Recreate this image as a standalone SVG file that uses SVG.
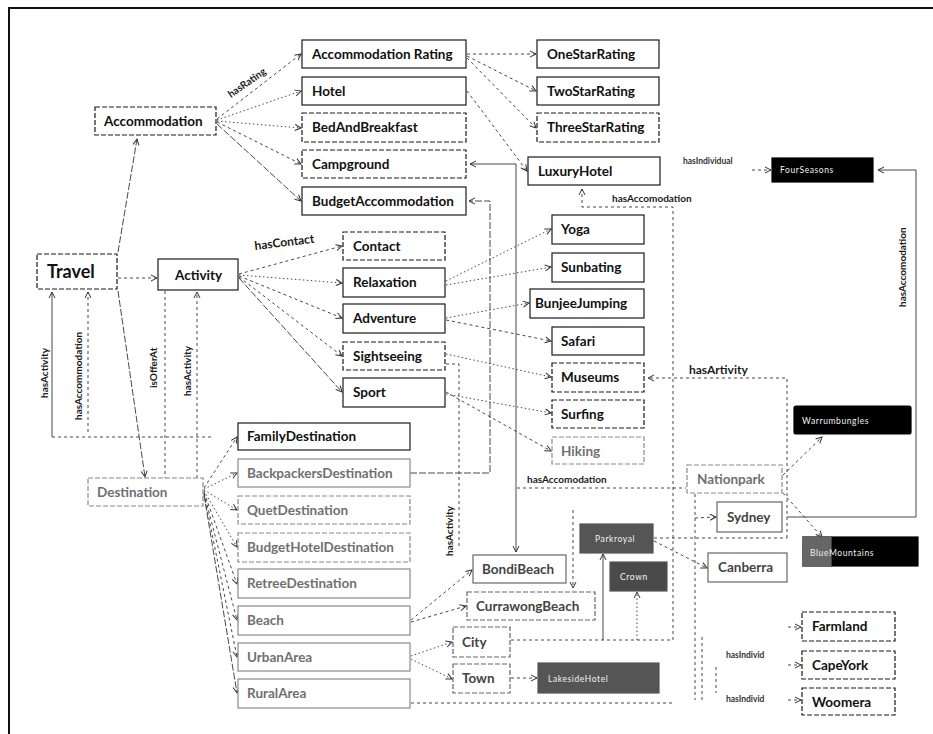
<svg xmlns="http://www.w3.org/2000/svg" width="933" height="734" viewBox="0 0 933 734">
<defs>
  <marker id="arr" viewBox="0 0 8 8" refX="7" refY="4" markerWidth="8" markerHeight="8" orient="auto-start-reverse" markerUnits="userSpaceOnUse">
    <path d="M1,1 L7,4 L1,7" fill="none" stroke="#333" stroke-width="1"/>
  </marker>
  <style>
    .box rect { fill:#fff; stroke:#1a1a1a; stroke-width:1.2; }
    .box.dash rect { stroke-dasharray:5 2; }
    .box.faint rect { stroke:#8a8a8a; }
    .box.faint text { fill:#707070; }
    .box.mid text { fill:#444; }
    .box.mid rect { stroke:#666; }
    .box.dark rect { fill:#000; stroke:#000; }
    .box.grey rect { fill:#555; stroke:#555; }
    text { font-family: Lato, "Liberation Sans", "DejaVu Sans", sans-serif; }
    .t { font-weight:700; font-size:13.5px; fill:#111; }
    .w { font-size:8.5px; fill:#f2f2f2; letter-spacing:0.6px; }
    .lbl { font-size:10px; font-weight:700; fill:#1a1a1a; }
    .lbl.sm { font-size:8.5px; fill:#333; }
    .lbl.big { font-size:12px; }
    #connectors path { fill:none; stroke:#333; stroke-width:0.9; }
    #connectors .d { stroke-dasharray:3 3; }
    #connectors .o { stroke-dasharray:1.5 2.5; }
    #connectors .l { stroke-dasharray:7 2; }
  </style>
</defs>
<rect width="933" height="734" fill="#fff"/>
<!-- frame -->
<path d="M9,734 L9,8 L933,8" fill="none" stroke="#111" stroke-width="2"/>

<g id="connectors">
  <!-- Travel -->
  <path class="l" d="M118,252 L137,139" marker-end="url(#arr)"/>
  <path class="l" d="M118,291 L145,477" marker-end="url(#arr)"/>
  <path class="d" d="M118,278 L157,278" marker-end="url(#arr)"/>
  <path d="M52,437 L52,292" marker-end="url(#arr)"/>
  <path class="d" d="M88,432 L88,292" marker-end="url(#arr)"/>
  <path class="d" d="M52,437 L213,437"/>
  <path class="d" d="M165,291 L165,478"/>
  <path class="d" d="M197,478 L197,292" marker-end="url(#arr)"/>
  <!-- Accommodation -->
  <path class="d" d="M217,119 L301,54" marker-end="url(#arr)"/>
  <path class="o" d="M217,120 L301,91" marker-end="url(#arr)"/>
  <path class="o" d="M217,121 L301,128" marker-end="url(#arr)"/>
  <path class="d" d="M217,122 L301,164" marker-end="url(#arr)"/>
  <path class="l" d="M217,124 L301,201" marker-end="url(#arr)"/>
  <!-- ratings -->
  <path class="d" d="M467,54 L536,54" marker-end="url(#arr)"/>
  <path class="d" d="M467,56 L536,91" marker-end="url(#arr)"/>
  <path class="d" d="M467,58 L536,128" marker-end="url(#arr)"/>
  <path class="d" d="M467,91 L527,171" marker-end="url(#arr)"/>
  <!-- long verticals -->
  <path d="M410,473 L490,473 L490,201 L469,201" class="l" marker-end="url(#arr)"/>
  <path d="M470,164 L516,164 L516,552" marker-start="url(#arr)" marker-end="url(#arr)"/>
  <path class="d" d="M673,640 L673,207 L582,207 L582,189" marker-end="url(#arr)"/>
  <path class="d" d="M787,538 L787,378 L648,378" marker-end="url(#arr)"/>
  <path d="M787,517 L916,517 L916,170 L878,170" marker-end="url(#arr)"/>
  <path class="d" d="M752,170 L771,170" marker-end="url(#arr)"/>
  <!-- Activity -->
  <path class="d" d="M239,274 L342,246" marker-end="url(#arr)"/>
  <path class="o" d="M239,275 L342,283" marker-end="url(#arr)"/>
  <path class="d" d="M239,276 L342,318" marker-end="url(#arr)"/>
  <path class="d" d="M239,277 L342,356" marker-end="url(#arr)"/>
  <path class="l" d="M239,278 L342,392" marker-end="url(#arr)"/>
  <!-- activity kinds -->
  <path class="o" d="M446,281 L551,229" marker-end="url(#arr)"/>
  <path class="o" d="M446,285 L551,267" marker-end="url(#arr)"/>
  <path class="o" d="M446,318 L529,303" marker-end="url(#arr)"/>
  <path class="d" d="M446,320 L551,341" marker-end="url(#arr)"/>
  <path class="o" d="M446,354 L551,377" marker-end="url(#arr)"/>
  <path class="d" d="M446,392 L551,451" marker-end="url(#arr)"/>
  <path class="o" d="M446,394 L551,413" marker-end="url(#arr)"/>
  <path class="d" d="M446,364 L459,364 L459,548"/>
  <!-- Destination -->
  <path class="d" d="M204,488 L237,437" marker-end="url(#arr)"/>
  <path class="o" d="M204,489 L237,473" marker-end="url(#arr)"/>
  <path class="o" d="M204,490 L237,510" marker-end="url(#arr)"/>
  <path class="o" d="M204,491 L237,547" marker-end="url(#arr)"/>
  <path class="d" d="M204,492 L237,584" marker-end="url(#arr)"/>
  <path class="d" d="M204,493 L237,620" marker-end="url(#arr)"/>
  <path class="d" d="M204,494 L237,657" marker-end="url(#arr)"/>
  <path class="l" d="M204,495 L237,693" marker-end="url(#arr)"/>
  <!-- places -->
  <path class="d" d="M411,620 L472,570" marker-end="url(#arr)"/>
  <path class="d" d="M411,622 L466,606" marker-end="url(#arr)"/>
  <path class="o" d="M411,656 L452,642" marker-end="url(#arr)"/>
  <path class="o" d="M411,659 L452,679" marker-end="url(#arr)"/>
  <path class="d" d="M511,678 L537,678" marker-end="url(#arr)"/>
  <path class="d" d="M511,640 L673,640"/>
  <path class="d" d="M411,703 L673,703"/>
  <path d="M603,640 L603,554" marker-end="url(#arr)"/>
  <path class="o" d="M637,640 L637,592" marker-end="url(#arr)"/>
  <path class="d" d="M573,510 L573,588" marker-end="url(#arr)"/>
  <path class="d" d="M654,538 L787,538"/>
  <path class="d" d="M654,541 L707,568" marker-end="url(#arr)"/>
  <path class="d" d="M517,488 L686,488"/>
  <path class="d" d="M695,494 L695,700"/>
  <path class="d" d="M695,518 L716,517" marker-end="url(#arr)"/>
  <path class="d" d="M783,475 L822,437" marker-end="url(#arr)"/>
  <path class="d" d="M783,493 L822,537" marker-end="url(#arr)"/>
  <path class="d" d="M702,637 L702,700"/>
  <path class="d" d="M716,667 L716,693"/>
  <path class="d" d="M788,627 L801,627" marker-end="url(#arr)"/>
  <path class="d" d="M788,665 L801,665" marker-end="url(#arr)"/>
  <path class="d" d="M788,700 L801,700" marker-end="url(#arr)"/>
</g>

<!-- connector labels -->
<g id="labels">
  <text class="lbl" transform="translate(231,98) rotate(-35)">hasRating</text>
  <text class="lbl big" transform="translate(255,250) rotate(-7)">hasContact</text>
  <text class="lbl sm" x="683" y="164">hasIndividual</text>
  <text class="lbl" x="612" y="202">hasAccomodation</text>
  <text class="lbl" transform="translate(906,307) rotate(-90)">hasAccomodation</text>
  <text class="lbl big" x="689" y="374">hasArtivity</text>
  <text class="lbl" x="527" y="483">hasAccomodation</text>
  <text class="lbl" transform="translate(453,556) rotate(-90)">hasActivity</text>
  <text class="lbl" transform="translate(48,398) rotate(-90)">hasActivity</text>
  <text class="lbl" transform="translate(82,420) rotate(-90)">hasAccommodation</text>
  <text class="lbl" transform="translate(157,388) rotate(-90)">isOfferAt</text>
  <text class="lbl" transform="translate(191,396) rotate(-90)">hasActivity</text>
  <text class="lbl sm" x="726" y="658">hasIndivid</text>
  <text class="lbl sm" x="726" y="702">hasIndivid</text>
</g>

<!-- top level -->
<g id="accommodation" class="box dash"><rect x="95" y="107" width="121" height="28"/><text class="t" x="104" y="126">Accommodation</text></g>
<g id="travel" class="box dash"><rect x="37" y="254" width="80" height="35"/><text class="t" x="47" y="278" style="font-size:18px">Travel</text></g>
<g id="activity" class="box"><rect x="158" y="259" width="80" height="31"/><text class="t" x="175" y="280">Activity</text></g>
<g id="destination" class="box dash faint"><rect x="88" y="478" width="115" height="28"/><text class="t" x="97" y="497">Destination</text></g>

<!-- accommodation kinds -->
<g id="accommodation-rating" class="box"><rect x="302" y="40" width="164" height="28"/><text class="t" x="312" y="59">Accommodation Rating</text></g>
<g id="hotel" class="box"><rect x="302" y="77" width="164" height="28"/><text class="t" x="312" y="96">Hotel</text></g>
<g id="bed-and-breakfast" class="box dash"><rect x="302" y="113" width="164" height="29"/><text class="t" x="312" y="132">BedAndBreakfast</text></g>
<g id="campground" class="box dash"><rect x="302" y="150" width="164" height="28"/><text class="t" x="312" y="169">Campground</text></g>
<g id="budget-accommodation" class="box"><rect x="302" y="187" width="164" height="28"/><text class="t" x="312" y="206">BudgetAccommodation</text></g>

<g id="one-star" class="box"><rect x="537" y="40" width="122" height="28"/><text class="t" x="547" y="59">OneStarRating</text></g>
<g id="two-star" class="box"><rect x="537" y="77" width="122" height="28"/><text class="t" x="547" y="96">TwoStarRating</text></g>
<g id="three-star" class="box dash"><rect x="537" y="113" width="122" height="29"/><text class="t" x="547" y="132">ThreeStarRating</text></g>
<g id="luxury-hotel" class="box"><rect x="528" y="157" width="132" height="28"/><text class="t" x="538" y="176">LuxuryHotel</text></g>
<g id="hotel-individual" class="box dark"><rect x="772" y="158" width="101" height="24"/><text class="w" x="780" y="173">FourSeasons</text></g>

<!-- activity kinds -->
<g id="contact" class="box dash"><rect x="343" y="232" width="102" height="28"/><text class="t" x="353" y="251">Contact</text></g>
<g id="relaxation" class="box"><rect x="343" y="268" width="102" height="29"/><text class="t" x="353" y="287">Relaxation</text></g>
<g id="adventure" class="box"><rect x="343" y="304" width="102" height="29"/><text class="t" x="353" y="323">Adventure</text></g>
<g id="sightseeing" class="box dash"><rect x="343" y="342" width="102" height="28"/><text class="t" x="353" y="361">Sightseeing</text></g>
<g id="sport" class="box"><rect x="343" y="378" width="102" height="29"/><text class="t" x="353" y="397">Sport</text></g>

<g id="yoga" class="box"><rect x="552" y="215" width="92" height="29"/><text class="t" x="561" y="234">Yoga</text></g>
<g id="sunbating" class="box"><rect x="552" y="253" width="92" height="29"/><text class="t" x="561" y="272">Sunbating</text></g>
<g id="bunjee-jumping" class="box"><rect x="530" y="289" width="114" height="29"/><text class="t" x="535" y="308">BunjeeJumping</text></g>
<g id="safari" class="box"><rect x="552" y="327" width="92" height="28"/><text class="t" x="561" y="346">Safari</text></g>
<g id="museums" class="box dash"><rect x="552" y="363" width="92" height="29"/><text class="t" x="561" y="382">Museums</text></g>
<g id="surfing" class="box dash"><rect x="552" y="400" width="92" height="28"/><text class="t" x="561" y="419">Surfing</text></g>
<g id="hiking" class="box dash faint"><rect x="552" y="437" width="92" height="27"/><text class="t" x="561" y="456">Hiking</text></g>

<!-- destination kinds -->
<g id="family-destination" class="box"><rect x="238" y="423" width="172" height="27"/><text class="t" x="247" y="441">FamilyDestination</text></g>
<g id="backpackers-destination" class="box faint"><rect x="238" y="459" width="172" height="28"/><text class="t" x="247" y="478">BackpackersDestination</text></g>
<g id="quet-destination" class="box faint dash"><rect x="238" y="496" width="172" height="28"/><text class="t" x="247" y="515">QuetDestination</text></g>
<g id="budget-hotel-destination" class="box faint dash"><rect x="238" y="533" width="172" height="29"/><text class="t" x="247" y="552">BudgetHotelDestination</text></g>
<g id="retree-destination" class="box faint"><rect x="238" y="569" width="172" height="29"/><text class="t" x="247" y="588">RetreeDestination</text></g>
<g id="beach" class="box faint"><rect x="238" y="606" width="172" height="29"/><text class="t" x="247" y="625">Beach</text></g>
<g id="urban-area" class="box faint"><rect x="238" y="643" width="172" height="28"/><text class="t" x="247" y="662">UrbanArea</text></g>
<g id="rural-area" class="box faint"><rect x="238" y="679" width="172" height="29"/><text class="t" x="247" y="698">RuralArea</text></g>

<!-- places -->
<g id="bondi-beach" class="box mid"><rect x="473" y="555" width="93" height="28"/><text class="t" x="482" y="574">BondiBeach</text></g>
<g id="currawong-beach" class="box mid dash"><rect x="467" y="592" width="128" height="28"/><text class="t" x="476" y="611">CurrawongBeach</text></g>
<g id="city" class="box mid dash"><rect x="453" y="627" width="57" height="30"/><text class="t" x="462" y="647">City</text></g>
<g id="town" class="box mid dash"><rect x="453" y="664" width="57" height="29"/><text class="t" x="462" y="683">Town</text></g>
<g id="beach-hotel" class="box grey"><rect x="580" y="524" width="73" height="29"/><text class="w" x="595" y="542">Parkroyal</text></g>
<g id="beach-hostel" class="box grey"><rect x="610" y="562" width="57" height="29" style="fill:#4a4a4a"/><text class="w" x="620" y="580">Crown</text></g>
<g id="town-hotel" class="box grey"><rect x="538" y="663" width="121" height="30"/><text class="w" x="548" y="682">LakesideHotel</text></g>
<g id="nationpark" class="box faint dash"><rect x="687" y="465" width="95" height="28"/><text class="t" x="697" y="484">Nationpark</text></g>
<g id="sydney" class="box mid"><rect x="717" y="502" width="65" height="30"/><text class="t" x="727" y="522">Sydney</text></g>
<g id="canberra" class="box mid"><rect x="708" y="553" width="79" height="29"/><text class="t" x="718" y="572">Canberra</text></g>
<g id="park-individual" class="box dark"><rect x="794" y="406" width="117" height="28" rx="2"/><text class="w" x="802" y="424">Warrumbungles</text></g>
<g id="blue-mountains" class="box dark"><rect x="803" y="537" width="115" height="29"/><rect x="803" y="537" width="28" height="29" style="fill:#666;stroke:#666"/><text class="w" x="810" y="556">BlueMountains</text></g>
<g id="farmland" class="box dash"><rect x="802" y="612" width="93" height="29"/><text class="t" x="812" y="631">Farmland</text></g>
<g id="cape-york" class="box dash"><rect x="802" y="651" width="93" height="28"/><text class="t" x="812" y="670">CapeYork</text></g>
<g id="woomera" class="box dash"><rect x="802" y="688" width="93" height="27"/><text class="t" x="812" y="707">Woomera</text></g>
</svg>
